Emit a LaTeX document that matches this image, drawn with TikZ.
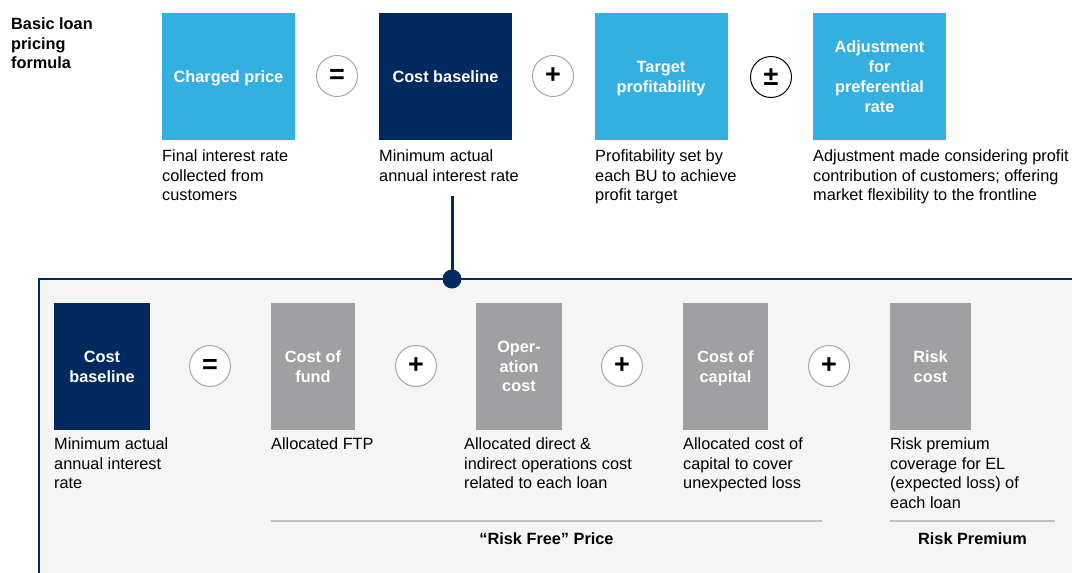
\documentclass[tikz,border=0pt]{standalone}
\usepackage{fontspec}
\setmainfont{Liberation Sans}
\definecolor{lblue}{HTML}{33B0E0}
\definecolor{navy}{HTML}{002960}
\definecolor{boxgray}{HTML}{A0A0A2}
\definecolor{panelbg}{HTML}{F5F5F5}
\definecolor{sepgray}{HTML}{C0C0C0}
\definecolor{ringgray}{HTML}{A6A6A6}
\newcommand\myfl{\rule{0pt}{12pt}}
\begin{document}
\begin{tikzpicture}[x=1pt,y=-1pt,
  boxbase/.style={rectangle, inner sep=0pt, text=white, align=center, text depth=0pt,
    font=\fontsize{16.3}{19.8}\selectfont\bfseries},
  topbox/.style={boxbase, minimum width=133pt, minimum height=127pt},
  botbox/.style={boxbase, minimum height=127pt},
  desc/.style={anchor=north west, inner sep=0pt, align=left,
    font=\fontsize{16.3}{19.8}\selectfont},
  op/.style={circle, minimum size=41pt, inner sep=0pt, fill=white,
    draw=ringgray, line width=1pt, font=\fontsize{27}{27}\selectfont\bfseries},
  label/.style={anchor=base, inner sep=0pt, font=\fontsize{16.3}{19.8}\selectfont\bfseries},
  sep/.style={draw=sepgray, line width=1.5pt},
  link/.style={draw=navy, line width=3pt}
]
\useasboundingbox (0,0) rectangle (1072,573);

% panel
\fill[panelbg] (39,279) rectangle (1080,580);
\draw[navy, line width=2.5pt] (1080,279) -- (39,279) -- (39,580);

% title
\node[desc, font=\fontsize{16.3}{19.8}\selectfont\bfseries] (title) at (11,17) {\myfl Basic loan\\pricing\\formula};

% top row
\node[topbox, fill=lblue] (cp) at (228.5,76.5) {Charged price};
\node[op] (eq1) at (337,76) {=};
\node[topbox, fill=navy] (cb) at (445.5,76.5) {Cost baseline};
\node[op] (pl1) at (553,76) {+};
\node[topbox, fill=lblue] (tp) at (661,76.5) {Target\\profitability};
\node[op, draw=black] (pm) at (771,77) {±};
\node[topbox, fill=lblue] (adj) at (879.5,76.5) {Adjustment\\for\\preferential\\rate};

\node[desc] (cpd) at (162,149) {\myfl Final interest rate\\collected from\\customers};
\node[desc] (cbd) at (379,149) {\myfl Minimum actual\\annual interest rate};
\node[desc] (tpd) at (595,149) {\myfl Profitability set by\\each BU to achieve\\profit target};
\node[desc] (adjd) at (813,149) {\myfl Adjustment made considering profit\\contribution of customers; offering\\market flexibility to the frontline};

% connector
\coordinate (lt) at (452,196);
\coordinate (dot) at (452,279);
\draw[link] (lt) -- (dot);
\fill[navy] (dot) circle[radius=9.5pt];

% bottom row
\node[botbox, fill=navy, minimum width=96pt] (cb2) at (102,366.5) {Cost\\baseline};
\node[op] (eq2) at (210,366) {=};
\node[botbox, fill=boxgray, minimum width=84pt] (cof) at (313,366.5) {Cost of\\fund};
\node[op] (pl2) at (416,366) {+};
\node[botbox, fill=boxgray, minimum width=86pt] (opc) at (519,366.5) {Oper-\\ation\\cost};
\node[op] (pl3) at (622,366) {+};
\node[botbox, fill=boxgray, minimum width=85pt] (coc) at (725.5,366.5) {Cost of\\capital};
\node[op] (pl4) at (829,366) {+};
\node[botbox, fill=boxgray, minimum width=81pt] (rc) at (930.5,366.5) {Risk\\cost};

\node[desc] (cb2d) at (54,437) {\myfl Minimum actual\\annual interest\\rate};
\node[desc] (cofd) at (271,437) {\myfl Allocated FTP};
\node[desc] (opcd) at (464,437) {\myfl Allocated direct \&\\indirect operations cost\\related to each loan};
\node[desc] (cocd) at (683,437) {\myfl Allocated cost of\\capital to cover\\unexpected loss};
\node[desc] (rcd) at (890,437) {\myfl Risk premium\\coverage for EL\\(expected loss) of\\each loan};

% groups
\coordinate (rfa) at (271,521);
\coordinate (rfb) at (822,521);
\coordinate (rpa) at (890,521);
\coordinate (rpb) at (1055,521);
\draw[sep] (rfa) -- (rfb);
\draw[sep] (rpa) -- (rpb);
\node[label] (rfl) at (546.5,544) {“Risk Free” Price};
\node[label] (rpl) at (972.5,544) {Risk Premium};
\end{tikzpicture}
\end{document}
